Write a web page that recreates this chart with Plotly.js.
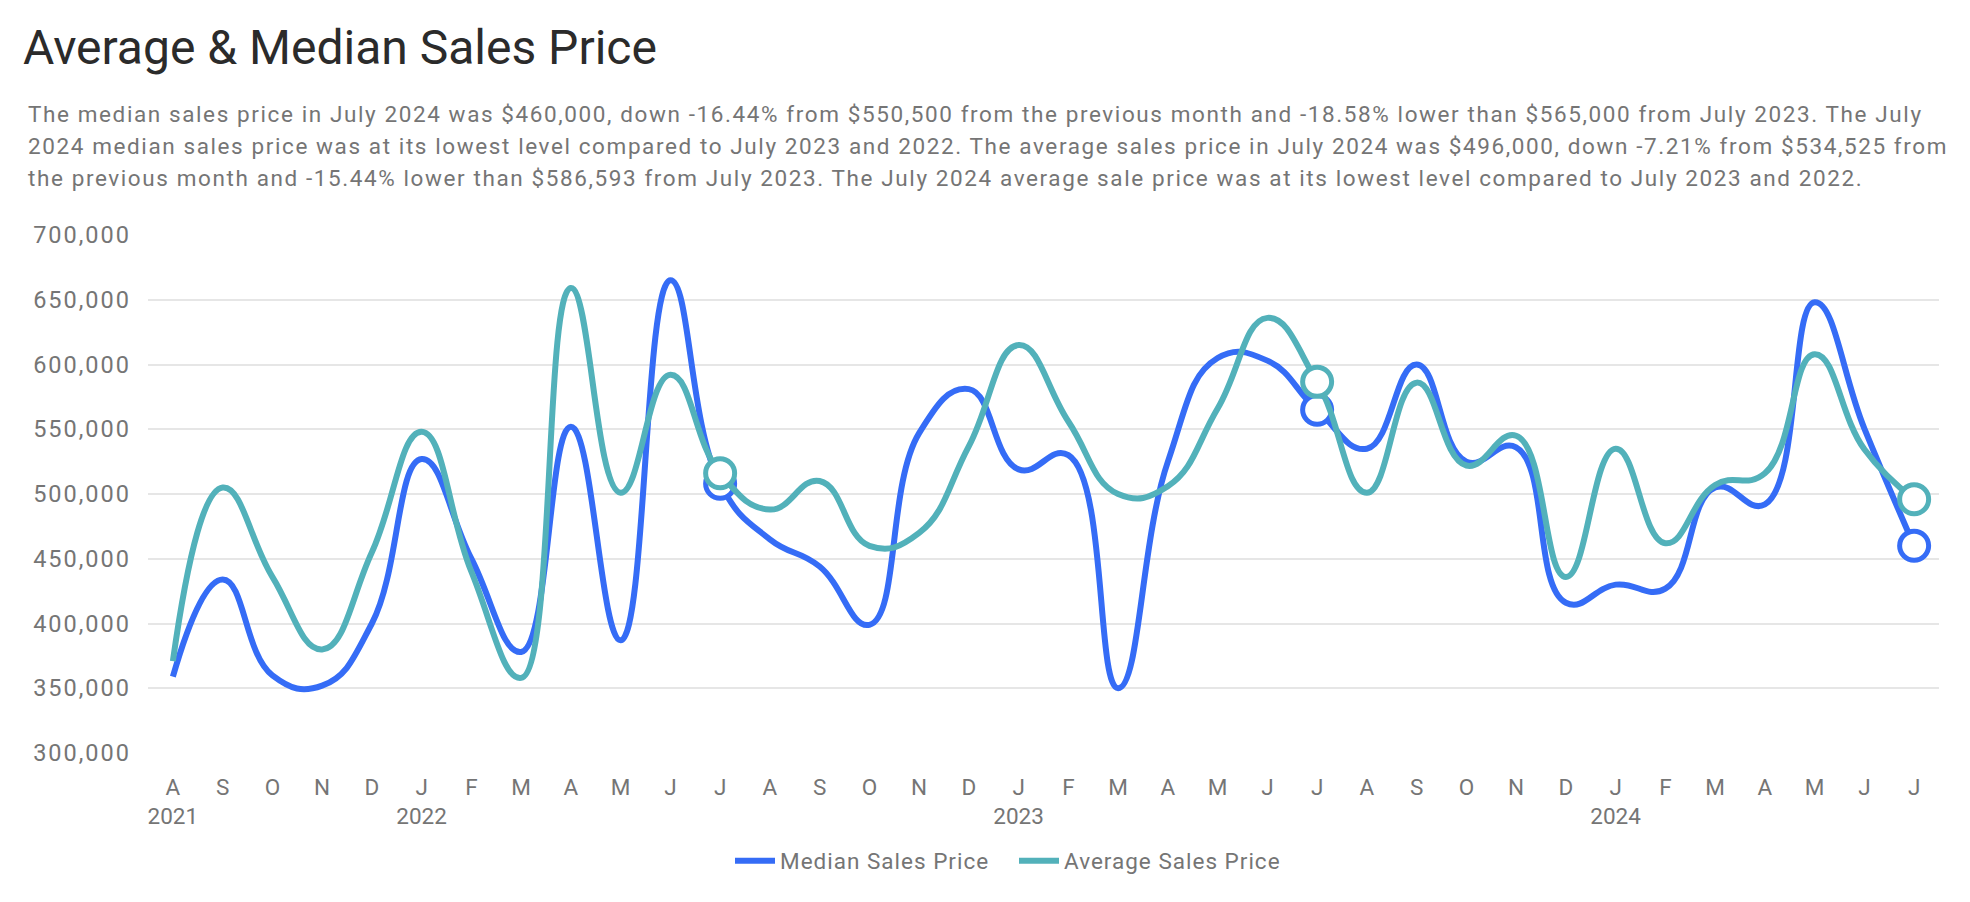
<!DOCTYPE html>
<html>
<head>
<meta charset="utf-8">
<script src="https://cdn.plot.ly/plotly-3.0.1.min.js"></script>
<style>
  html, body { margin: 0; padding: 0; background: #fff; }
  #chart { width: 1970px; height: 902px; }
  .annotation-text { letter-spacing: 1.6px; }
  .ytick text { letter-spacing: 2px; }
  .legendtext { letter-spacing: 1px; }
</style>
</head>
<body>
<div id="chart"></div>
<script>
// ---- Data ----
const months = [
  "2021-08","2021-09","2021-10","2021-11","2021-12",
  "2022-01","2022-02","2022-03","2022-04","2022-05","2022-06","2022-07","2022-08","2022-09","2022-10","2022-11","2022-12",
  "2023-01","2023-02","2023-03","2023-04","2023-05","2023-06","2023-07","2023-08","2023-09","2023-10","2023-11","2023-12",
  "2024-01","2024-02","2024-03","2024-04","2024-05","2024-06","2024-07"
];
const tickLabels = [
  "A<br>2021","S","O","N","D",
  "J<br>2022","F","M","A","M","J","J","A","S","O","N","D",
  "J<br>2023","F","M","A","M","J","J","A","S","O","N","D",
  "J<br>2024","F","M","A","M","J","J"
];
const medianPrice = [
  359000, 434000, 360000, 352000, 400000,
  527000, 450000, 378000, 552000, 387000, 665000, 508000, 465000, 444000, 399000, 547000, 581000,
  519000, 530000, 350000, 525000, 605000, 603000, 565000, 535000, 600000, 525000, 536000, 416000,
  430000, 427000, 505000, 492000, 648000, 550500, 460000
];
const averagePrice = [
  371000, 505000, 436000, 380000, 455000,
  548000, 440000, 358000, 659000, 501000, 592000, 516000, 488000, 510000, 460000, 470000, 537000,
  615000, 556000, 500000, 506000, 566000, 636000, 586593, 501000, 586000, 522000, 545000, 436000,
  535000, 462000, 507000, 516000, 608000, 534525, 496000
];
const seriesNames = ["Median Sales Price", "Average Sales Price"];
const yTicks = [300000, 350000, 400000, 450000, 500000, 550000, 600000, 650000, 700000];
const titleText = "Average & Median Sales Price";
const subtitleLines = [
  "The median sales price in July 2024 was $460,000, down -16.44% from $550,500 from the previous month and -18.58% lower than $565,000 from July 2023. The July",
  "2024 median sales price was at its lowest level compared to July 2023 and 2022. The average sales price in July 2024 was $496,000, down -7.21% from $534,525 from",
  "the previous month and -15.44% lower than $586,593 from July 2023. The July 2024 average sale price was at its lowest level compared to July 2023 and 2022."
];

// ---- Style / layout ----
const W = 1970, H = 902;
const M = { l: 148, r: 31, t: 235, b: 149 };
const plotH = H - M.t - M.b;
const plotW = W - M.l - M.r;
const blue = "#356CF6";
const teal = "#52B1BA";
const font = "Roboto, 'Noto Sans', Arial, sans-serif";
const grey = "#757575";

const isJuly = months.map(m => m.endsWith("-07"));
const julyX = months.filter((m, i) => isJuly[i]);
const pick = arr => arr.filter((v, i) => isJuly[i]);

function lineTrace(y, name, color) {
  return {
    x: months, y: y, name: name, type: "scatter", mode: "lines",
    line: { color: color, width: 6, shape: "spline", smoothing: 1.3 },
    hoverinfo: "x+y"
  };
}
function markerTrace(y, color) {
  return {
    x: julyX, y: pick(y), type: "scatter", mode: "markers", showlegend: false,
    marker: { size: 29, color: "#ffffff", line: { color: color, width: 5 } },
    hoverinfo: "x+y"
  };
}

const traces = [
  lineTrace(medianPrice, seriesNames[0], blue),
  markerTrace(medianPrice, blue),
  lineTrace(averagePrice, seriesNames[1], teal),
  markerTrace(averagePrice, teal)
];

const pyFromPx = px => (H - M.b - px) / plotH;
const pxFromX = px => (px - M.l) / plotW;

const annotations = subtitleLines.map((t, i) => ({
  text: t, xref: "paper", yref: "paper",
  x: pxFromX(26), xanchor: "left",
  y: pyFromPx(114 + i * 32), yanchor: "middle",
  showarrow: false, align: "left",
  font: { family: font, size: 22.5, color: grey }
}));

const layout = {
  width: W, height: H,
  margin: M,
  paper_bgcolor: "#ffffff", plot_bgcolor: "#ffffff",
  font: { family: font, color: grey, size: 22 },
  title: {
    text: titleText,
    xref: "container", yref: "container",
    x: 23 / W, xanchor: "left",
    y: 1 - 47 / H, yanchor: "middle",
    font: { family: font, size: 48, color: "#2b2b2b" }
  },
  showlegend: true,
  legend: {
    orientation: "h", x: pxFromX(730), xanchor: "left",
    y: pyFromPx(861), yanchor: "middle",
    font: { family: font, size: 22.5, color: grey },
    itemwidth: 40,
    entrywidth: 229, entrywidthmode: "pixels"
  },
  xaxis: {
    type: "category",
    range: [-0.5, months.length - 0.5],
    tickmode: "array", tickvals: months, ticktext: tickLabels,
    showgrid: false, zeroline: false, showline: false, ticks: "",
    tickfont: { family: font, size: 22.5, color: grey },
    ticklabelstandoff: 18,
    fixedrange: true
  },
  yaxis: {
    range: [300000, 700000],
    tickmode: "array", tickvals: yTicks,
    tickformat: ",d",
    showgrid: true, gridcolor: "#e6e6e6", gridwidth: 2,
    zeroline: false, showline: false, ticks: "",
    tickfont: { family: font, size: 23.5, color: grey },
    ticklabelstandoff: 16,
    fixedrange: true
  },
  annotations: annotations,
  hovermode: false
};

Plotly.newPlot("chart", traces, layout, { displayModeBar: false, staticPlot: true });
</script>
</body>
</html>
